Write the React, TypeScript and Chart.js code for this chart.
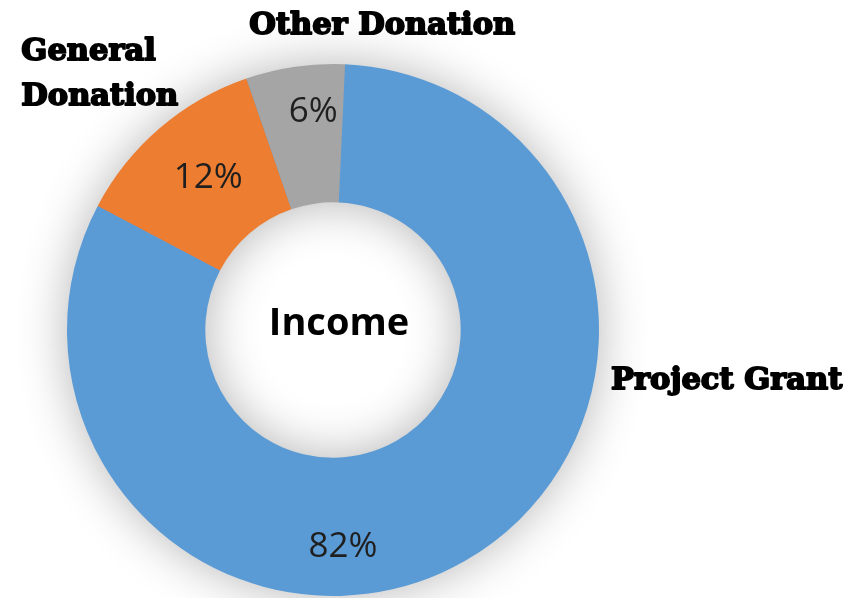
import React, { useEffect, useRef } from "react";
import { Chart, registerables } from "chart.js";

Chart.register(...registerables);

const categories = ["Project Grant", "General Donation", "Other Donation"];
const values = [82, 12, 6];
const percentLabels = ["82%", "12%", "6%"];
const colors = ["#5B9BD5", "#ED7D31", "#A5A5A5"];
const centerTitle = "Income";

// label placement (fraction along arc, fraction across ring)
const pctPlacement = [
  { along: 0.592, across: 0.65 },
  { along: 0.53, across: 0.5 },
  { along: 0.64, across: 0.66 },
];
// category label placement: angle (deg clockwise from top), distance from centre, alignment
const catPlacement = [
  { angle: 100.4, dist: 281.7, align: "left" as CanvasTextAlign },
  { angle: 309.3, dist: 404, align: "left" as CanvasTextAlign },
  { angle: 9.2, dist: 308, align: "center" as CanvasTextAlign },
];

const catFont = "bold 30.5px 'DejaVu Serif'";
const pctFont = "35px 'Open Sans'";
const centerFont = "bold 38px 'Open Sans'";

const shadowPlugin = {
  id: "ringShadow",
  beforeDatasetsDraw(chart: any) {
    const meta = chart.getDatasetMeta(0);
    const arc = meta.data[0];
    if (!arc) return;
    const { x, y, innerRadius, outerRadius } = arc.getProps(["x", "y", "innerRadius", "outerRadius"], true);
    const ctx = chart.ctx;
    ctx.save();
    ctx.shadowColor = "rgba(0,0,0,0.3)";
    ctx.shadowBlur = 50;
    ctx.fillStyle = "#5B9BD5";
    ctx.beginPath();
    ctx.arc(x, y, outerRadius - 1, 0, Math.PI * 2);
    ctx.arc(x, y, innerRadius + 1, 0, Math.PI * 2, true);
    ctx.closePath();
    ctx.fill();
    ctx.restore();
  },
};

const labelPlugin = {
  id: "ringLabels",
  afterDatasetsDraw(chart: any) {
    const meta = chart.getDatasetMeta(0);
    const ctx = chart.ctx;
    let cx = 0, cy = 0;
    ctx.save();
    meta.data.forEach((el: any, i: number) => {
      const p = el.getProps(["x", "y", "startAngle", "endAngle", "innerRadius", "outerRadius"], true);
      cx = p.x; cy = p.y;
      const pl = pctPlacement[i];
      const a = p.startAngle + pl.along * (p.endAngle - p.startAngle);
      const r = p.innerRadius + pl.across * (p.outerRadius - p.innerRadius);
      ctx.font = pctFont;
      ctx.fillStyle = "#1f1f1f";
      ctx.textAlign = "center";
      ctx.textBaseline = "middle";
      ctx.fillText(percentLabels[i], p.x + r * Math.cos(a), p.y + r * Math.sin(a));
    });
    // category labels
    categories.forEach((name, i) => {
      const cp = catPlacement[i];
      const rad = (cp.angle * Math.PI) / 180;
      const px = cx + cp.dist * Math.sin(rad);
      const py = cy - cp.dist * Math.cos(rad);
      ctx.font = catFont;
      ctx.fillStyle = "#000";
      ctx.strokeStyle = "#000";
      ctx.lineWidth = 1.9;
      ctx.lineJoin = "round";
      ctx.textAlign = cp.align;
      ctx.textBaseline = "middle";
      const lines = i === 1 ? name.split(" ") : [name];
      const lh = 45;
      lines.forEach((ln, k) => {
        const ly = py + (k - (lines.length - 1) / 2) * lh;
        const lx = px + (cp.align === "left" ? 1 : 0);
        ctx.strokeText(ln, lx, ly);
        ctx.fillText(ln, lx, ly);
      });
    });
    ctx.font = centerFont;
    ctx.fillStyle = "#000";
    ctx.textAlign = "center";
    ctx.textBaseline = "middle";
    ctx.fillText(centerTitle, cx + 6, cy - 6);
    ctx.restore();
  },
};

export default function App() {
  const ref = useRef<HTMLCanvasElement>(null);
  useEffect(() => {
    document.body.style.margin = "0";
    const chart = new Chart(ref.current!, {
      type: "doughnut",
      data: {
        labels: categories,
        datasets: [
          {
            data: values,
            backgroundColor: colors,
            borderWidth: 0,
            hoverOffset: 0,
          },
        ],
      },
      options: {
        responsive: false,
        animation: false,
        rotation: 2.6,
        cutout: "48%",
        layout: { padding: { left: 67, right: 249, top: 64, bottom: 2 } },
        plugins: { legend: { display: false }, tooltip: { enabled: false } },
      },
      plugins: [shadowPlugin, labelPlugin],
    });
    return () => chart.destroy();
  }, []);
  return (
    <div style={{ position: "absolute", left: 0, top: 0, width: 848, height: 598, background: "#fff" }}>
      <canvas ref={ref} width={848} height={598} />
    </div>
  );
}
